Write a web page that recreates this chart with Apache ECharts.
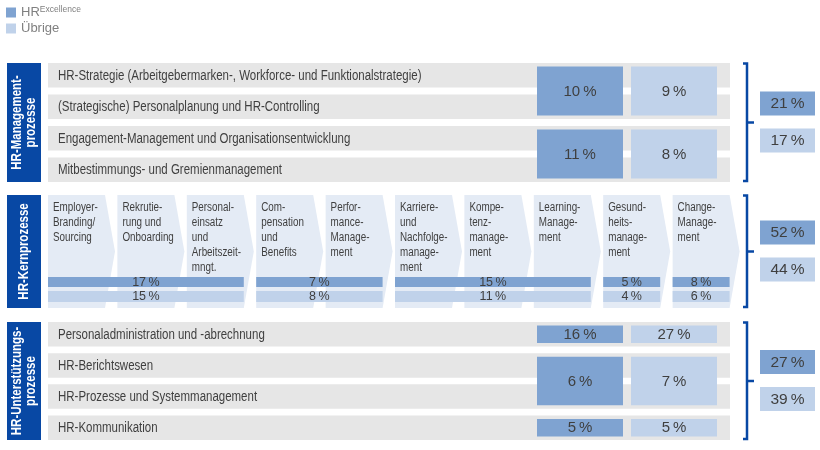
<!DOCTYPE html>
<html><head><meta charset="utf-8">
<script src="https://cdn.jsdelivr.net/npm/echarts@6/dist/echarts.min.js"></script>
<style>html,body{margin:0;padding:0;background:#fff}#c{width:820px;height:450px}</style>
</head><body><div id="c"></div>
<script>
// ---------- data ----------
const seriesNames = ['HRExcellence', 'Übrige'];
const sectionNames = ['HR-Management-\nprozesse', 'HR-Kernprozesse', 'HR-Unterstützungs-\nprozesse'];

const managementRows = [
  'HR-Strategie (Arbeitgebermarken-, Workforce- und Funktionalstrategie)',
  '(Strategische) Personalplanung und HR-Controlling',
  'Engagement-Management und Organisationsentwicklung',
  'Mitbestimmungs- und Gremienmanagement'
];
const managementSpans = [[0, 1], [2, 3]];
const managementExcellence = [10, 11];
const managementOther = [9, 8];

const coreSteps = [
  'Employer-\nBranding/\nSourcing',
  'Rekrutie-\nrung und\nOnboarding',
  'Personal-\neinsatz\nund\nArbeitszeit-\nmngt.',
  'Com-\npensation\nund\nBenefits',
  'Perfor-\nmance-\nManage-\nment',
  'Karriere-\nund\nNachfolge-\nmanage-\nment',
  'Kompe-\ntenz-\nmanage-\nment',
  'Learning-\nManage-\nment',
  'Gesund-\nheits-\nmanage-\nment',
  'Change-\nManage-\nment'
];
const coreSpans = [[0, 2], [3, 4], [5, 7], [8, 8], [9, 9]];
const coreExcellence = [17, 7, 15, 5, 8];
const coreOther = [15, 8, 11, 4, 6];

const supportRows = [
  'Personaladministration und -abrechnung',
  'HR-Berichtswesen',
  'HR-Prozesse und Systemmanagement',
  'HR-Kommunikation'
];
const supportSpans = [[0, 0], [1, 2], [3, 3]];
const supportExcellence = [16, 6, 5];
const supportOther = [27, 7, 5];

const totalExcellence = [21, 52, 27];
const totalOther = [17, 44, 39];

// ---------- styles & layout ----------
const COLORS = ['#7fa3d1', '#c0d2ea'];
const GRAY = '#e6e6e6', CHEV = '#e4ebf5', NAVY = '#0848a4', TXT = '#3f3f3f';
const SANS = '"Liberation Sans",Arial,sans-serif';
const NARROW_SCALE = 0.82; // Arial Narrow ~ Arial condensed to 82 %
const L = {
  sect: [{ top: 63, bottom: 182 }, { top: 195, bottom: 308 }, { top: 322, bottom: 440 }],
  tagX: [7, 41], rowX: [48, 730], rowH: 24.5, labelX: 58,
  boxCol: [[537, 623], [631, 717]], inset: 3.5,
  chevX0: 48, chevPitch: 69.4, chevBody: 57, chevTip: 10,
  coreBarY: [[82, 92], [96, 107]],
  brX: 747, brHook: 4, brTick: 7,
  sumX: [760, 815], sumY: [[-31, -7], [6, 30]]
};
function rowTop(s, i) {
  const sc = L.sect[s];
  const pitch = (sc.bottom - sc.top - L.rowH) / 3;
  return sc.top + i * pitch;
}
function rectOf(api, x0, y0, x1, y1) {
  const a = api.coord([x0, y0]), b = api.coord([x1, y1]);
  return { x: a[0], y: a[1], width: b[0] - a[0], height: b[1] - a[1] };
}
const pct = v => v + '\u2009%';

// ---------- series data ----------
function valueItems(k) {
  const items = [];
  const m = k === 0 ? managementExcellence : managementOther;
  managementSpans.forEach((sp, i) => items.push([0, sp[0], sp[1], m[i], 0]));
  const c = k === 0 ? coreExcellence : coreOther;
  coreSpans.forEach((sp, i) => items.push([1, sp[0], sp[1], c[i], 1]));
  const s = k === 0 ? supportExcellence : supportOther;
  supportSpans.forEach((sp, i) => items.push([2, sp[0], sp[1], s[i], 0]));
  const t = k === 0 ? totalExcellence : totalOther;
  t.forEach((v, i) => items.push([i, 0, 0, v, 2]));
  return items;
}

function renderValue(k) {
  return function (params, api) {
    const s = api.value(0), a = api.value(1), b = api.value(2), v = api.value(3), kind = api.value(4);
    let r, fs;
    if (kind === 0) {
      r = rectOf(api, L.boxCol[k][0], rowTop(s, a) + L.inset, L.boxCol[k][1], rowTop(s, b) + L.rowH - L.inset);
      fs = 15;
    } else if (kind === 1) {
      const sc = L.sect[1];
      r = rectOf(api, L.chevX0 + a * L.chevPitch, sc.top + L.coreBarY[k][0],
        L.chevX0 + b * L.chevPitch + L.chevBody, sc.top + L.coreBarY[k][1]);
      fs = 12.5;
    } else {
      const sc = L.sect[s], mid = (sc.top + sc.bottom) / 2;
      r = rectOf(api, L.sumX[0], mid + L.sumY[k][0], L.sumX[1], mid + L.sumY[k][1]);
      fs = 15.5;
    }
    return {
      type: 'group', children: [
        { type: 'rect', shape: r, style: { fill: COLORS[k] } },
        { type: 'text', x: r.x + r.width / 2, y: r.y + r.height / 2 + 0.5,
          style: { text: pct(v), fill: TXT, fontSize: fs, fontFamily: SANS, align: 'center', verticalAlign: 'middle' } }
      ]
    };
  };
}

const rowItems = [];
managementRows.forEach((n, i) => rowItems.push({ value: [0, i], name: n }));
supportRows.forEach((n, i) => rowItems.push({ value: [2, i], name: n }));

const option = {
  animation: false,
  grid: { left: 0, right: 0, top: 0, bottom: 0 },
  xAxis: { type: 'value', min: 0, max: 820, show: false },
  yAxis: { type: 'value', min: 0, max: 450, inverse: true, show: false },
  legend: {
    data: seriesNames, orient: 'vertical', left: 6, top: 5, padding: 0,
    itemWidth: 10, itemHeight: 10, itemGap: 3, icon: 'rect', selectedMode: false,
    formatter: n => n === 'HRExcellence' ? '{a|HR}{b|Excellence}' : '{a|' + n + '}',
    textStyle: {
      rich: {
        a: { fontSize: 13, color: '#808080', fontFamily: SANS, lineHeight: 15 },
        b: { fontSize: 8.5, color: '#808080', fontFamily: SANS, lineHeight: 9, verticalAlign: 'top' }
      }
    }
  },
  series: [
    { // section tags
      type: 'custom', silent: true, data: sectionNames.map((n, i) => ({ value: [i, 0], name: n })),
      renderItem: function (params, api) {
        const s = api.value(0), sc = L.sect[s];
        const r = rectOf(api, L.tagX[0], sc.top, L.tagX[1], sc.bottom);
        return { type: 'group', children: [
          { type: 'rect', shape: r, style: { fill: NAVY } },
          { type: 'text', x: r.x + r.width / 2, y: r.y + r.height / 2, rotation: Math.PI / 2, scaleX: NARROW_SCALE,
            style: { text: sectionNames[s], fill: '#fff', fontSize: 14, fontWeight: 'bold', fontFamily: SANS,
              align: 'center', verticalAlign: 'middle', lineHeight: 14 } }
        ] };
      }
    },
    { // gray rows
      type: 'custom', silent: true, data: rowItems,
      renderItem: function (params, api) {
        const s = api.value(0), i = api.value(1);
        const y0 = rowTop(s, i);
        const r = rectOf(api, L.rowX[0], y0, L.rowX[1], y0 + L.rowH);
        const p = api.coord([L.labelX, y0 + L.rowH / 2]);
        return { type: 'group', children: [
          { type: 'rect', shape: r, style: { fill: GRAY } },
          { type: 'text', x: p[0], y: p[1] + 0.5, scaleX: NARROW_SCALE,
            style: { text: rowItems[params.dataIndex].name, fill: TXT, fontSize: 14, fontFamily: SANS, align: 'left', verticalAlign: 'middle' } }
        ] };
      }
    },
    { // core process chevrons
      type: 'custom', silent: true, data: coreSteps.map((n, i) => ({ value: [i, 0], name: n })),
      renderItem: function (params, api) {
        const i = api.value(0), sc = L.sect[1];
        const x0 = L.chevX0 + i * L.chevPitch, mid = (sc.top + sc.bottom) / 2;
        const pts = [[x0, sc.top], [x0 + L.chevBody, sc.top], [x0 + L.chevBody + L.chevTip, mid],
          [x0 + L.chevBody, sc.bottom], [x0, sc.bottom]].map(p => api.coord(p));
        const t = api.coord([x0 + 5, sc.top + 5.5]);
        return { type: 'group', children: [
          { type: 'polygon', shape: { points: pts }, style: { fill: CHEV } },
          { type: 'text', x: t[0], y: t[1], scaleX: NARROW_SCALE,
            style: { text: coreSteps[i], fill: TXT, fontSize: 12, fontFamily: SANS, lineHeight: 15, align: 'left', verticalAlign: 'top' } }
        ] };
      }
    },
    { // brackets
      type: 'custom', silent: true, data: sectionNames.map((n, i) => [i, 0]),
      renderItem: function (params, api) {
        const sc = L.sect[api.value(0)], mid = (sc.top + sc.bottom) / 2;
        const x = L.brX;
        const pts = [[x - L.brHook, sc.top + 0.5], [x, sc.top + 0.5], [x, sc.bottom - 1], [x - L.brHook, sc.bottom - 1]].map(p => api.coord(p));
        const a = api.coord([x, mid]), b = api.coord([x + L.brTick, mid]);
        return { type: 'group', children: [
          { type: 'polyline', shape: { points: pts }, style: { stroke: NAVY, lineWidth: 2.5, fill: null } },
          { type: 'line', shape: { x1: a[0], y1: a[1], x2: b[0], y2: b[1] }, style: { stroke: NAVY, lineWidth: 2.5 } }
        ] };
      }
    },
    { name: seriesNames[0], type: 'custom', silent: true, itemStyle: { color: COLORS[0] },
      data: valueItems(0), renderItem: renderValue(0) },
    { name: seriesNames[1], type: 'custom', silent: true, itemStyle: { color: COLORS[1] },
      data: valueItems(1), renderItem: renderValue(1) }
  ]
};
const chart = echarts.init(document.getElementById('c'), null, { renderer: 'canvas' });
chart.setOption(option);
</script>
</body></html>
